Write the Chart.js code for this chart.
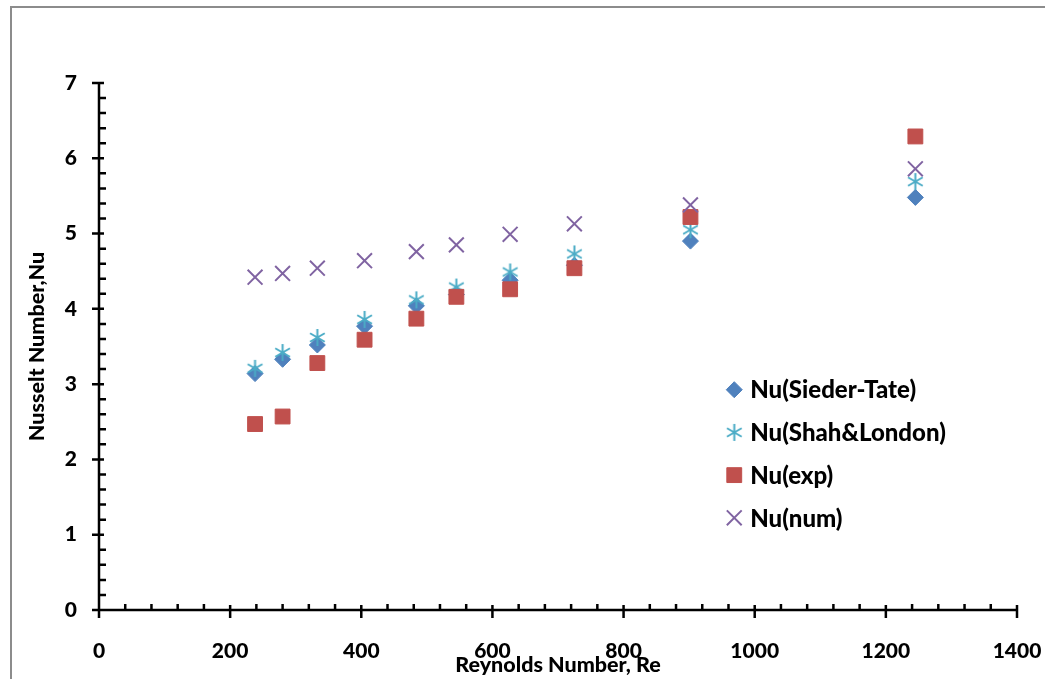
<!DOCTYPE html>
<html>
<head>
<meta charset="utf-8">
<script src="https://cdn.jsdelivr.net/npm/chart.js@4.4.1/dist/chart.umd.min.js"></script>
<style>
  html, body { margin: 0; padding: 0; background: #fff; overflow: hidden; }
  canvas { display: block; }
</style>
</head>
<body>
<canvas id="grafica" width="1045" height="679"></canvas>
<script>
// datos
const reynolds = [238, 280, 333, 405, 484, 545, 627, 725, 902, 1245];
const nuSiederTate = [3.14, 3.33, 3.52, 3.77, 4.04, 4.19, 4.38, 4.58, 4.90, 5.48];
const nuShahLondon = [3.21, 3.42, 3.62, 3.86, 4.12, 4.29, 4.49, 4.73, 5.05, 5.69];
const nuExp = [2.47, 2.57, 3.28, 3.59, 3.87, 4.16, 4.26, 4.54, 5.22, 6.29];
const nuNum = [4.42, 4.47, 4.54, 4.64, 4.76, 4.85, 4.99, 5.13, 5.38, 5.86];

const xTicks = [0, 200, 400, 600, 800, 1000, 1200, 1400];
const yTicks = [0, 1, 2, 3, 4, 5, 6, 7];

const fuente = "Lato, 'Liberation Sans', sans-serif";
const peso = "900";

function puntos(ys) {
    return reynolds.map((r, i) => ({ x: r, y: ys[i] }));
}

// asterisco de 6 brazos (no existe en Chart.js)
function asterisco(color, size) {
    const c = document.createElement("canvas");
    c.width = size;
    c.height = size;
    const g = c.getContext("2d");
    const m = size / 2, r = size / 2 - 1;
    g.strokeStyle = color;
    g.lineWidth = 2;
    g.beginPath();
    for (let k = 0; k < 3; k++) {
        const a = Math.PI / 2 + k * Math.PI / 3;
        g.moveTo(m - r * Math.cos(a), m - r * Math.sin(a));
        g.lineTo(m + r * Math.cos(a), m + r * Math.sin(a));
    }
    g.stroke();
    return c;
}

const estrella = asterisco("#4BACC6", 19);

const series = [
    { label: "Nu(Sieder-Tate)", data: puntos(nuSiederTate), pointStyle: "rectRot", pointRadius: 8,
      backgroundColor: "#4F81BD", borderColor: "#4F81BD", borderWidth: 1, order: 3 },
    { label: "Nu(Shah&London)", data: puntos(nuShahLondon), pointStyle: estrella, pointRadius: 9,
      backgroundColor: "#4BACC6", borderColor: "#4BACC6", borderWidth: 2, order: 2 },
    { label: "Nu(exp)", data: puntos(nuExp), pointStyle: "rect", pointRadius: 10.5,
      backgroundColor: "#C0504D", borderColor: "#C0504D", borderWidth: 1, order: 1 },
    { label: "Nu(num)", data: puntos(nuNum), pointStyle: "crossRot", pointRadius: 10.5,
      backgroundColor: "#8064A2", borderColor: "#8064A2", borderWidth: 2, order: 0 }
];

// marco gris de la figura
const marco = {
    id: "marco",
    beforeDraw(chart) {
        const ctx = chart.ctx;
        ctx.save();
        ctx.fillStyle = "#fff";
        ctx.fillRect(0, 0, chart.width, chart.height);
        ctx.strokeStyle = "#8c8c8c";
        ctx.lineWidth = 2;
        ctx.beginPath();
        ctx.moveTo(11, chart.height);
        ctx.lineTo(11, 7);
        ctx.lineTo(chart.width, 7);
        ctx.stroke();
        ctx.restore();
    }
};

// ejes con marcas mayores cruzadas y menores hacia dentro
const ejes = {
    id: "ejes",
    afterDatasetsDraw(chart) {
        const { ctx, scales: { x, y } } = chart;
        const x0 = x.getPixelForValue(xTicks[0]);
        const x1 = x.getPixelForValue(xTicks[xTicks.length - 1]);
        const y0 = y.getPixelForValue(yTicks[0]);
        const y1 = y.getPixelForValue(yTicks[yTicks.length - 1]);
        ctx.save();
        ctx.strokeStyle = "#000";
        ctx.lineWidth = 2.5;
        ctx.beginPath();
        ctx.moveTo(x0, y1);
        ctx.lineTo(x0, y0);
        ctx.lineTo(x1, y0);
        for (let i = 0; i < xTicks.length; i++) {
            const px = x.getPixelForValue(xTicks[i]);
            ctx.moveTo(px, y0 + 8);
            ctx.lineTo(px, y0 - 5);
            if (i < xTicks.length - 1) {
                const paso = (xTicks[i + 1] - xTicks[i]) / 5;
                for (let k = 1; k < 5; k++) {
                    const pm = x.getPixelForValue(xTicks[i] + k * paso);
                    ctx.moveTo(pm, y0);
                    ctx.lineTo(pm, y0 - 6);
                }
            }
        }
        for (let i = 0; i < yTicks.length; i++) {
            const py = y.getPixelForValue(yTicks[i]);
            ctx.moveTo(x0 - 7, py);
            ctx.lineTo(x0 + 5, py);
            if (i < yTicks.length - 1) {
                const paso = (yTicks[i + 1] - yTicks[i]) / 5;
                for (let k = 1; k < 5; k++) {
                    const pm = y.getPixelForValue(yTicks[i] + k * paso);
                    ctx.moveTo(x0, pm);
                    ctx.lineTo(x0 + 7, pm);
                }
            }
        }
        ctx.stroke();
        ctx.restore();
    }
};

// leyenda dentro del area de trazado
const leyenda = {
    id: "leyenda",
    afterDraw(chart) {
        const { ctx, chartArea } = chart;
        const mx = chartArea.left + (chartArea.right - chartArea.left) * 0.692;
        const top = chartArea.top + (chartArea.bottom - chartArea.top) * 0.582;
        const dy = 42.7;
        ctx.save();
        ctx.font = peso + " 24px " + fuente;
        ctx.textBaseline = "middle";
        chart.data.datasets.forEach((ds, i) => {
            const cy = top + i * dy;
            ctx.fillStyle = ds.backgroundColor;
            ctx.strokeStyle = ds.borderColor;
            ctx.lineWidth = ds.borderWidth;
            Chart.helpers.drawPoint(ctx, {
                pointStyle: ds.pointStyle,
                radius: ds.pointRadius,
                rotation: 0,
                borderWidth: ds.borderWidth
            }, mx, cy);
            ctx.fillStyle = "#000";
            ctx.fillText(ds.label, mx + 16, cy + 1);
        });
        ctx.restore();
    }
};

// sin relleno extra para las etiquetas extremas
function sinRelleno(s) {
    s.paddingLeft = 0;
    s.paddingRight = 0;
    s.paddingTop = 0;
    s.paddingBottom = 0;
}

new Chart(document.getElementById("grafica"), {
    type: "scatter",
    data: { datasets: series },
    options: {
        responsive: false,
        animation: false,
        events: [],
        layout: { padding: { left: 10, top: 83, right: 28, bottom: 0 } },
        plugins: {
            legend: { display: false },
            tooltip: { enabled: false }
        },
        scales: {
            x: {
                type: "linear",
                min: xTicks[0],
                max: xTicks[xTicks.length - 1],
                afterFit: (s) => { s.height = 69; sinRelleno(s); },
                grid: { display: false, drawTicks: false },
                border: { display: false },
                ticks: {
                    stepSize: xTicks[1] - xTicks[0],
                    padding: 29,
                    color: "#000",
                    callback: (v) => String(v),
                    font: { family: fuente, size: 21, weight: peso }
                },
                title: {
                    display: true,
                    text: "Reynolds Number, Re",
                    color: "#000",
                    padding: { top: 0, bottom: 1 },
                    font: { family: fuente, size: 21.5, weight: peso }
                }
            },
            y: {
                type: "linear",
                min: yTicks[0],
                max: yTicks[yTicks.length - 1],
                afterFit: (s) => { s.width = 89; sinRelleno(s); },
                grid: { display: false, drawTicks: false },
                border: { display: false },
                ticks: {
                    stepSize: yTicks[1] - yTicks[0],
                    padding: 22,
                    color: "#000",
                    callback: (v) => String(v),
                    font: { family: fuente, size: 21, weight: peso }
                },
                title: {
                    display: true,
                    text: "Nusselt Number,Nu",
                    color: "#000",
                    padding: { top: 14, bottom: 0 },
                    font: { family: fuente, size: 21.5, weight: peso }
                }
            }
        }
    },
    plugins: [marco, ejes, leyenda]
});
</script>
</body>
</html>
